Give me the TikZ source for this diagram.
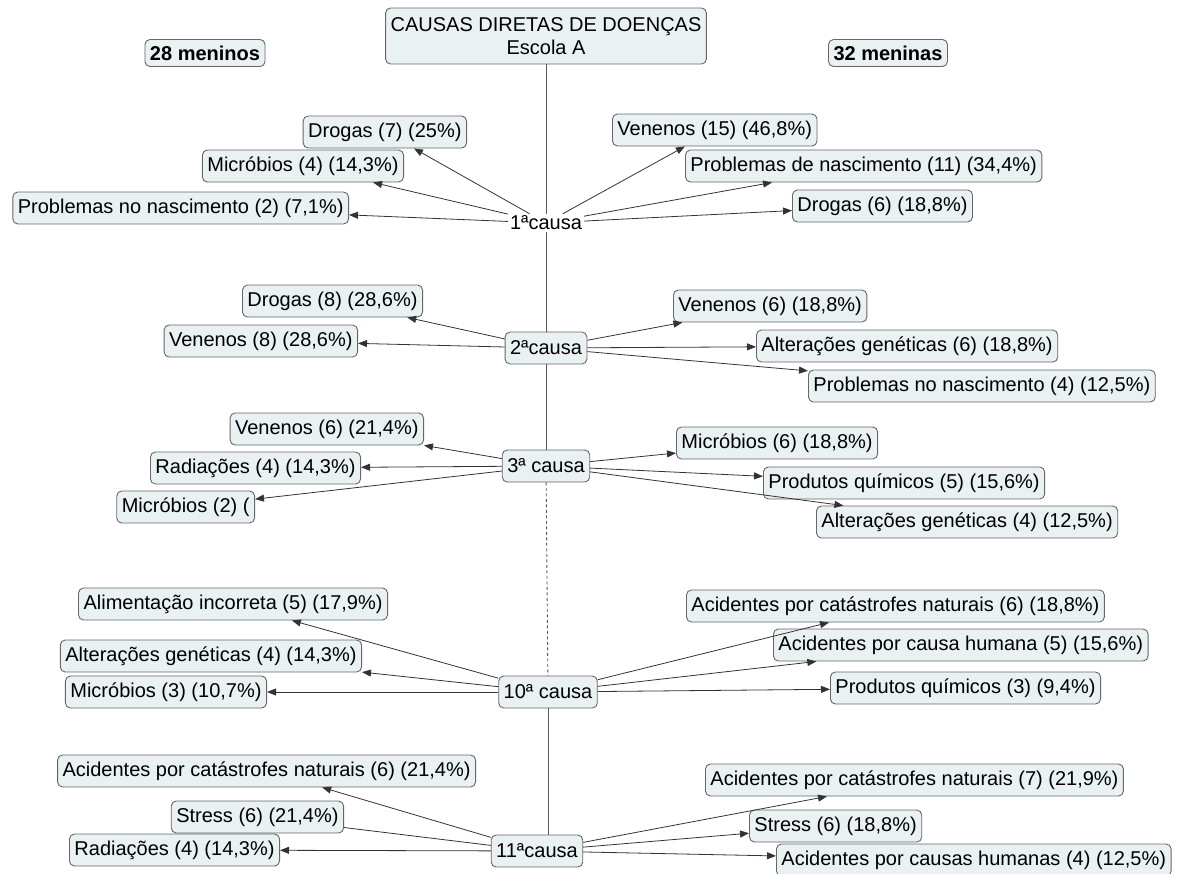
\documentclass[tikz,border=0pt]{standalone}
\usepackage{fontspec}
\setmainfont{Liberation Sans}
\usetikzlibrary{arrows.meta}

\definecolor{boxfill}{HTML}{EAF1F3}

\begin{document}
\begin{tikzpicture}[
		x=1pt, y=-1pt,
		t/.style = {rectangle, rounded corners=5pt, draw=black!60, fill=boxfill, line width=0.9pt, inner xsep=5pt, minimum height=32pt, font=\fontsize{20}{23}\selectfont},
		hd/.style = {t, minimum height=27pt, font=\fontsize{20}{23}\selectfont\bfseries},
		p/.style = {inner sep=2pt, font=\fontsize{20}{23}\selectfont},
		a/.style = {-{Triangle[length=9pt,width=7pt]}, draw=black!80, line width=0.8pt},
		v/.style = {draw=black!65, line width=0.9pt}
		]
		\useasboundingbox (0,0) rectangle (1178,873);
		
		%Nodes
		\node[t, align=center, minimum height=56pt]	(title)	at	(546, 36)	{CAUSAS DIRETAS DE DOENÇAS\\Escola A};
		\node[hd]	(boys)	at	(205, 53)	{28 meninos};
		\node[hd]	(girls)	at	(888, 53)	{32 meninas};
		
		\node[p]	(c1)	at	(546, 223)	{1ªcausa};
		\node[t]	(c2)	at	(546, 348)	{2ªcausa};
		\node[t]	(c3)	at	(546, 466)	{3ª causa};
		\node[t]	(c10)	at	(548, 692)	{10ª causa};
		\node[t]	(c11)	at	(537, 851)	{11ªcausa};
		
		\node[t, anchor=east]	(l1a)	at	(467, 132)	{Drogas (7) (25\%)};
		\node[t, anchor=east]	(l1b)	at	(404, 166)	{Micróbios (4) (14,3\%)};
		\node[t, anchor=east]	(l1c)	at	(349, 208)	{Problemas no nascimento (2) (7,1\%)};
		\node[t, anchor=west]	(r1a)	at	(612, 130)	{Venenos (15) (46,8\%)};
		\node[t, anchor=west]	(r1b)	at	(685, 166)	{Problemas de nascimento (11) (34,4\%)};
		\node[t, anchor=west]	(r1c)	at	(792, 206)	{Drogas (6) (18,8\%)};
		
		\node[t, anchor=east]	(l2a)	at	(423, 301)	{Drogas (8) (28,6\%)};
		\node[t, anchor=east]	(l2b)	at	(358, 341)	{Venenos (8) (28,6\%)};
		\node[t, anchor=west]	(r2a)	at	(673, 306)	{Venenos (6) (18,8\%)};
		\node[t, anchor=west]	(r2b)	at	(756, 346)	{Alterações genéticas (6) (18,8\%)};
		\node[t, anchor=west]	(r2c)	at	(808, 386)	{Problemas no nascimento (4) (12,5\%)};
		
		\node[t, anchor=east]	(l3a)	at	(424, 429)	{Venenos (6) (21,4\%)};
		\node[t, anchor=east]	(l3b)	at	(361, 468)	{Radiações (4) (14,3\%)};
		\node[t, anchor=east]	(l3c)	at	(255, 507)	{Micróbios (2) (};
		\node[t, anchor=west]	(r3a)	at	(676, 443)	{Micróbios (6) (18,8\%)};
		\node[t, anchor=west]	(r3b)	at	(763, 483)	{Produtos químicos (5) (15,6\%)};
		\node[t, anchor=west]	(r3c)	at	(816, 522)	{Alterações genéticas (4) (12,5\%)};
		
		\node[t, anchor=east]	(l10a)	at	(388, 604)	{Alimentação incorreta (5) (17,9\%)};
		\node[t, anchor=east]	(l10b)	at	(362, 656)	{Alterações genéticas (4) (14,3\%)};
		\node[t, anchor=east]	(l10c)	at	(267, 692)	{Micróbios (3) (10,7\%)};
		\node[t, anchor=west]	(r10a)	at	(686, 606)	{Acidentes por catástrofes naturais (6) (18,8\%)};
		\node[t, anchor=west]	(r10b)	at	(773, 645)	{Acidentes por causa humana (5) (15,6\%)};
		\node[t, anchor=west]	(r10c)	at	(830, 688)	{Produtos químicos (3) (9,4\%)};
		
		\node[t, anchor=east]	(l11a)	at	(476, 771)	{Acidentes por catástrofes naturais (6) (21,4\%)};
		\node[t, anchor=east]	(l11b)	at	(344, 817)	{Stress (6) (21,4\%)};
		\node[t, anchor=east]	(l11c)	at	(280, 850)	{Radiações (4) (14,3\%)};
		\node[t, anchor=west]	(r11a)	at	(705, 780)	{Acidentes por catástrofes naturais (7) (21,9\%)};
		\node[t, anchor=west]	(r11b)	at	(749, 826)	{Stress (6) (18,8\%)};
		\node[t, anchor=west]	(r11c)	at	(776, 860)	{Acidentes por causas humanas (4) (12,5\%)};
		
		%Spine
		\draw[v]	(title)	--	(c1);
		\draw[v]	(c1)	--	(c2);
		\draw[v]	(c2)	--	(c3);
		\draw[v, dash pattern=on 3pt off 2.5pt]	(c3)	--	(c10);
		\draw[v]	(c10)	--	(c10 |- c11.north);
		
		%Lines
		\draw[a]	(c1)	--	(l1a);
		\draw[a]	(c1)	--	(l1b);
		\draw[a]	(c1)	--	(l1c);
		\draw[a]	(c1)	--	(r1a);
		\draw[a]	(c1)	--	(r1b);
		\draw[a]	(c1)	--	(r1c);
		
		\draw[a]	(c2)	--	(l2a);
		\draw[a]	(c2)	--	(l2b);
		\draw[a]	(c2)	--	(r2a);
		\draw[a]	(c2)	--	(r2b);
		\draw[a]	(c2)	--	(r2c);
		
		\draw[a]	(c3)	--	(l3a);
		\draw[a]	(c3)	--	(l3b);
		\draw[a]	(c3)	--	(l3c);
		\draw[a]	(c3)	--	(r3a);
		\draw[a]	(c3)	--	(r3b);
		\draw[a]	(c3)	--	(r3c);
		
		\draw[a]	(c10)	--	(l10a);
		\draw[a]	(c10)	--	(l10b);
		\draw[a]	(c10)	--	(l10c);
		\draw[a]	(c10)	--	(r10a);
		\draw[a]	(c10)	--	(r10b);
		\draw[a]	(c10)	--	(r10c);
		
		\draw[a]	(c11)	--	(l11a);
		\draw[a, -]	(c11)	--	(l11b);
		\draw[a]	(c11)	--	(l11c);
		\draw[a]	(c11)	--	(r11a);
		\draw[a]	(c11)	--	(r11b);
		\draw[a]	(c11)	--	(r11c);
	\end{tikzpicture}
\end{document}
